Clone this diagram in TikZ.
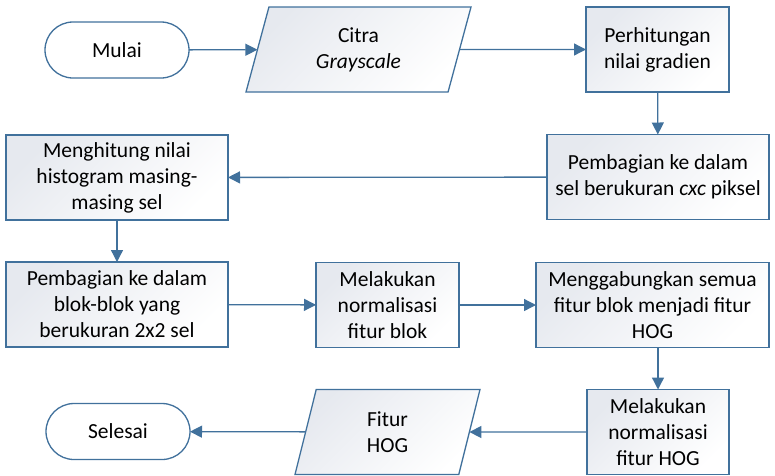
\documentclass[tikz,border=0pt]{standalone}
\usepackage{fontspec}
\setmainfont{Carlito}
\usepackage{tikz}
\usetikzlibrary{arrows.meta,positioning,shapes.geometric}
\definecolor{vblue}{HTML}{41719C}
\definecolor{vgray}{HTML}{E6E9EF}

\begin{document}
\begin{tikzpicture}[x=1pt,y=-1pt,
  every node/.style={font=\fontsize{21.5}{26}\selectfont, align=center, inner sep=0pt, outer sep=0pt},
  proses/.style={rectangle, draw=vblue, line width=1.3pt, top color=vgray, bottom color=white, shading angle=45, minimum width=#1, minimum height=85pt},
  terminal/.style={rectangle, rounded corners=28pt, draw=vblue, line width=1.3pt, fill=white, minimum width=144pt, minimum height=56pt},
  data/.style={trapezium, trapezium left angle=62.6, trapezium right angle=117.4, trapezium stretches body, draw=vblue, line width=1.3pt, top color=vgray, bottom color=white, shading angle=45, minimum width=#1, minimum height=85pt},
  panah/.style={-{Triangle[length=12pt,width=12pt]}, draw=vblue, line width=1.3pt}]
  \useasboundingbox (0,0) rectangle (775,475);
  \node[terminal] (mulai) at (117,50) {Mulai};
  \node[data=225pt] (citra) at (358.5,49.5) {Citra\\\textit{Grayscale}};
  \node[proses=143pt] (gradien) at (657.5,49.5) {Perhitungan\\nilai gradien};
  \node[proses=222pt] (sel) at (658,177) {Pembagian ke dalam\\sel berukuran \textit{cxc} piksel};
  \node[proses=222pt] (histo) at (117,177.5) {Menghitung nilai\\histogram masing-\\masing sel};
  \node[proses=222pt] (blok) at (117,304.5) {Pembagian ke dalam\\blok-blok yang\\berukuran 2x2 sel};
  \node[proses=143pt] (normblok) at (387.5,305) {Melakukan\\normalisasi\\fitur blok};
  \node[proses=233pt] (gabung) at (652.5,305) {Menggabungkan semua\\fitur blok menjadi fitur\\HOG};
  \node[proses=142pt] (normhog) at (658,432) {Melakukan\\normalisasi\\fitur HOG};
  \node[data=185pt] (fitur) at (387.5,432) {Fitur\\HOG};
  \node[terminal] (selesai) at (118,431.5) {Selesai};

  \draw[panah] (mulai) -- (citra);
  \draw[panah] (citra) -- (gradien);
  \draw[panah] (gradien) -- (sel);
  \draw[panah] (sel) -- (histo);
  \draw[panah] (histo) -- (blok);
  \draw[panah] (blok) -- (normblok);
  \draw[panah] (normblok) -- (gabung);
  \draw[panah] (normhog.north |- gabung.south) -- (normhog.north);
  \draw[panah] (normhog) -- (fitur);
  \draw[panah] (fitur) -- (selesai);
\end{tikzpicture}
\end{document}
